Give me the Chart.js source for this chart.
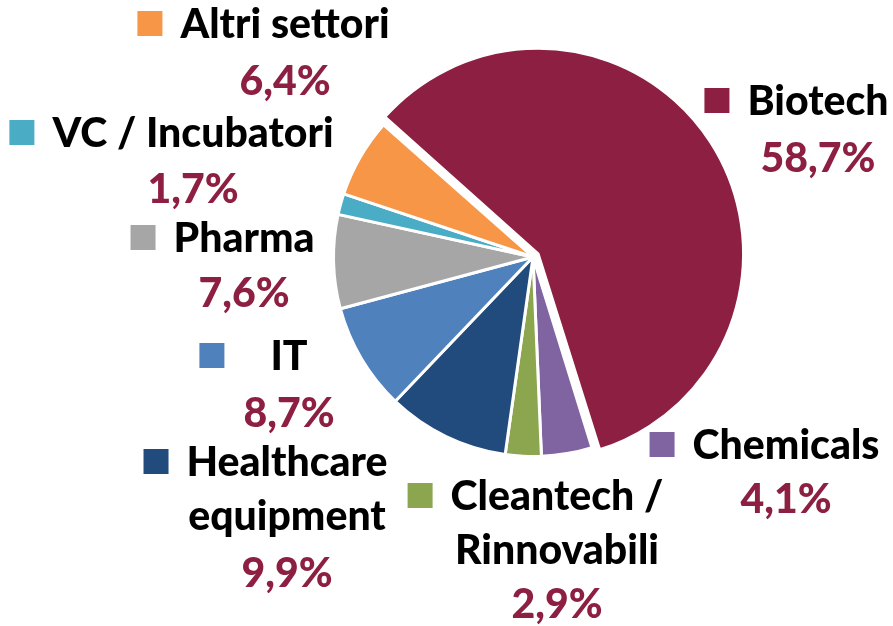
<!DOCTYPE html>
<html>
<head>
<meta charset="utf-8">
<script src="https://cdn.jsdelivr.net/npm/chart.js@4/dist/chart.umd.min.js"></script>
<style>
  html, body { margin: 0; padding: 0; background: #fff; }
  #chart { display: block; }
</style>
</head>
<body>
<canvas id="chart" width="893" height="626"></canvas>
<script>
// settori, in senso orario a partire da Biotech
const categories = [
  ["Biotech"],
  ["Chemicals"],
  ["Cleantech /", "Rinnovabili"],
  ["Healthcare", "equipment"],
  ["IT"],
  ["Pharma"],
  ["VC / Incubatori"],
  ["Altri settori"],
];
const shares = [58.7, 4.1, 2.9, 9.9, 8.7, 7.6, 1.7, 6.4];
const colors = ["#8D2042", "#8064A2", "#8BA64F", "#214A7D", "#4F81BD", "#A6A6A6", "#4BACC6", "#F79646"];
// chart.js v4 sposta la fetta di offset/4
const explode = [24, 0, 0, 0, 0, 0, 0, 0];

// dove stanno le etichette (centro del testo, linea di base del nome e della percentuale)
const labelLayout = [
  { cx: 818, y: 115, pctY: 172 },
  { cx: 786, y: 459, pctY: 513 },
  { cx: 557, y: 510, pctY: 618 },
  { cx: 287, y: 476, pctY: 587 },
  { cx: 289, y: 370, pctY: 427, gap: 46 },
  { cx: 244, y: 252, pctY: 307 },
  { cx: 193, y: 147, pctY: 203 },
  { cx: 285, y: 38, pctY: 95 },
];

const FONT = "900 41px Lato, 'Open Sans', sans-serif";
const PCT_COLOR = "#8D2042";
const KEY = 25;
const LINE = 54;

function pct(v) {
  return v.toFixed(1).replace(".", ",") + "%";
}

const sliceLabels = {
  id: "sliceLabels",
  afterDraw(chart) {
    const ctx = chart.ctx;
    ctx.save();
    ctx.font = FONT;
    ctx.textBaseline = "alphabetic";
    ctx.textAlign = "center";
    categories.forEach((lines, i) => {
      const pos = labelLayout[i];
      ctx.fillStyle = "#000";
      lines.forEach((line, j) => {
        ctx.fillText(line, pos.cx, pos.y + j * LINE);
      });
      const firstW = ctx.measureText(lines[0]).width;
      const keyX = pos.cx - firstW / 2 - (pos.gap || 18) - KEY;
      ctx.fillStyle = colors[i];
      ctx.fillRect(keyX, pos.y - 27, KEY, KEY);
      ctx.fillStyle = PCT_COLOR;
      ctx.fillText(pct(shares[i]), pos.cx, pos.pctY);
    });
    ctx.restore();
  },
};

new Chart(document.getElementById("chart"), {
  type: "pie",
  data: {
    labels: categories.map((l) => l.join(" ")),
    datasets: [{
      data: shares,
      backgroundColor: colors,
      borderColor: "#fff",
      borderWidth: 3,
      offset: explode,
    }],
  },
  options: {
    responsive: false,
    animation: false,
    rotation: -48.5,
    radius: 199.5,
    layout: { padding: { left: 173, right: 0, top: 0, bottom: 112 } },
    plugins: {
      legend: { display: false },
      tooltip: { enabled: false },
    },
  },
  plugins: [sliceLabels],
});
</script>
</body>
</html>
